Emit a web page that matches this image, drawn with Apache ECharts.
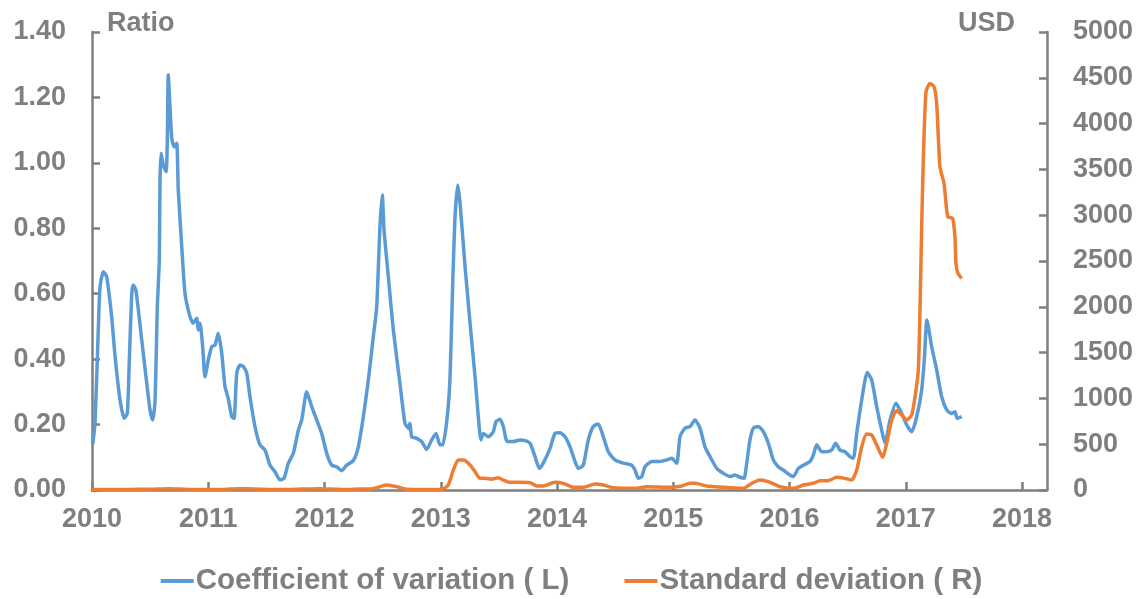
<!DOCTYPE html>
<html>
<head>
<meta charset="utf-8">
<title>Coefficient of variation and standard deviation</title>
<script src="https://cdn.jsdelivr.net/npm/echarts@6/dist/echarts.min.js"></script>
<style>
  html, body { margin: 0; padding: 0; background: #fff; }
  #chart { width: 1143px; height: 599px; }
</style>
</head>
<body>
<div id="chart"></div>
<script>
// x positions are decimal years
var cvYears = [2010.006, 2010.026, 2010.054, 2010.069, 2010.097, 2010.126, 2010.169, 2010.198, 2010.241, 2010.278,
  2010.304, 2010.321, 2010.342, 2010.355, 2010.378, 2010.428, 2010.471, 2010.499, 2010.522, 2010.542,
  2010.562, 2010.579, 2010.585, 2010.594, 2010.613, 2010.637, 2010.648, 2010.656, 2010.671, 2010.686,
  2010.708, 2010.729, 2010.742, 2010.772, 2010.800, 2010.843, 2010.871, 2010.901, 2010.914, 2010.929,
  2010.952, 2010.972, 2011.000, 2011.030, 2011.058, 2011.086, 2011.116, 2011.144, 2011.172, 2011.202,
  2011.222, 2011.245, 2011.273, 2011.302, 2011.331, 2011.359, 2011.402, 2011.445, 2011.488, 2011.531,
  2011.574, 2011.617, 2011.652, 2011.689, 2011.732, 2011.775, 2011.804, 2011.847, 2011.890, 2011.933,
  2011.976, 2012.019, 2012.062, 2012.105, 2012.148, 2012.191, 2012.248, 2012.291, 2012.334, 2012.377,
  2012.420, 2012.449, 2012.477, 2012.497, 2012.512, 2012.549, 2012.592, 2012.649, 2012.692, 2012.720,
  2012.735, 2012.750, 2012.793, 2012.836, 2012.879, 2012.922, 2012.959, 2012.994, 2013.017, 2013.056,
  2013.080, 2013.103, 2013.123, 2013.146, 2013.166, 2013.209, 2013.252, 2013.295, 2013.323, 2013.346,
  2013.366, 2013.409, 2013.452, 2013.475, 2013.510, 2013.538, 2013.572, 2013.624, 2013.682, 2013.725,
  2013.768, 2013.811, 2013.848, 2013.882, 2013.940, 2013.983, 2014.026, 2014.069, 2014.112, 2014.155,
  2014.183, 2014.226, 2014.269, 2014.312, 2014.355, 2014.398, 2014.441, 2014.499, 2014.570, 2014.643,
  2014.671, 2014.699, 2014.729, 2014.757, 2014.815, 2014.886, 2014.944, 2014.987, 2015.030, 2015.058,
  2015.101, 2015.144, 2015.187, 2015.230, 2015.273, 2015.316, 2015.374, 2015.431, 2015.488, 2015.531,
  2015.574, 2015.609, 2015.632, 2015.660, 2015.689, 2015.732, 2015.775, 2015.818, 2015.861, 2015.903,
  2015.946, 2015.990, 2016.033, 2016.076, 2016.119, 2016.176, 2016.205, 2016.234, 2016.277, 2016.320,
  2016.363, 2016.397, 2016.434, 2016.477, 2016.520, 2016.549, 2016.578, 2016.621, 2016.669, 2016.707,
  2016.750, 2016.793, 2016.822, 2016.865, 2016.916, 2016.965, 2017.008, 2017.051, 2017.094, 2017.137,
  2017.160, 2017.182, 2017.223, 2017.266, 2017.309, 2017.352, 2017.394, 2017.423, 2017.443, 2017.481];
var cvValues = [0.14, 0.205, 0.49, 0.62, 0.667, 0.652, 0.53, 0.41, 0.275, 0.219,
  0.235, 0.397, 0.60, 0.627, 0.61, 0.458, 0.326, 0.245, 0.214, 0.27,
  0.56, 0.703, 0.948, 1.029, 0.993, 0.973, 1.07, 1.269, 1.172, 1.075,
  1.049, 1.06, 0.917, 0.744, 0.601, 0.53, 0.51, 0.525, 0.489, 0.51,
  0.438, 0.346, 0.397, 0.438, 0.443, 0.479, 0.418, 0.316, 0.28, 0.224,
  0.219, 0.357, 0.382, 0.377, 0.357, 0.285, 0.194, 0.138, 0.122, 0.076,
  0.056, 0.031, 0.036, 0.082, 0.112, 0.183, 0.214, 0.30, 0.255, 0.214,
  0.173, 0.112, 0.076, 0.071, 0.059, 0.076, 0.09, 0.132, 0.224, 0.336,
  0.469, 0.56, 0.805, 0.902, 0.795, 0.652, 0.489, 0.326, 0.204, 0.189,
  0.204, 0.163, 0.158, 0.148, 0.124, 0.153, 0.173, 0.138, 0.138, 0.224,
  0.346, 0.632, 0.835, 0.932, 0.876, 0.683, 0.51, 0.346, 0.224, 0.153,
  0.173, 0.163, 0.178, 0.209, 0.216, 0.194, 0.148, 0.148, 0.153, 0.151,
  0.143, 0.102, 0.066, 0.082, 0.127, 0.173, 0.175, 0.163, 0.132, 0.087,
  0.066, 0.076, 0.153, 0.194, 0.202, 0.163, 0.117, 0.092, 0.082, 0.076,
  0.061, 0.036, 0.041, 0.071, 0.087, 0.087, 0.092, 0.097, 0.082, 0.163,
  0.189, 0.194, 0.214, 0.189, 0.132, 0.102, 0.066, 0.051, 0.041, 0.046,
  0.039, 0.036, 0.082, 0.153, 0.189, 0.194, 0.178, 0.143, 0.092, 0.071,
  0.061, 0.049, 0.041, 0.066, 0.076, 0.087, 0.107, 0.138, 0.117, 0.117,
  0.122, 0.143, 0.122, 0.117, 0.102, 0.097, 0.173, 0.275, 0.359, 0.336,
  0.255, 0.183, 0.143, 0.214, 0.265, 0.234, 0.199, 0.178, 0.224, 0.306,
  0.40, 0.52, 0.438, 0.367, 0.285, 0.245, 0.234, 0.239, 0.219, 0.224];

var sdYears = [2010.000, 2010.300, 2010.550, 2010.650, 2010.750, 2010.900, 2011.150, 2011.250, 2011.400, 2011.600,
  2011.800, 2011.950, 2012.100, 2012.200, 2012.300, 2012.391, 2012.477, 2012.535, 2012.621, 2012.707,
  2012.822, 2013.008, 2013.065, 2013.108, 2013.151, 2013.194, 2013.252, 2013.295, 2013.338, 2013.381,
  2013.438, 2013.495, 2013.538, 2013.596, 2013.653, 2013.768, 2013.825, 2013.882, 2013.983, 2014.054,
  2014.140, 2014.226, 2014.327, 2014.398, 2014.484, 2014.685, 2014.772, 2014.972, 2015.073, 2015.144,
  2015.187, 2015.288, 2015.431, 2015.603, 2015.675, 2015.746, 2015.818, 2015.918, 2016.033, 2016.119,
  2016.205, 2016.262, 2016.333, 2016.406, 2016.477, 2016.535, 2016.578, 2016.621, 2016.664, 2016.707,
  2016.750, 2016.802, 2016.836, 2016.879, 2016.922, 2016.965, 2017.008, 2017.051, 2017.080, 2017.108,
  2017.123, 2017.137, 2017.151, 2017.174, 2017.209, 2017.243, 2017.266, 2017.294, 2017.329, 2017.361,
  2017.403, 2017.423, 2017.432, 2017.449, 2017.481];
var sdValues = [5, 5, 10, 15, 12, 5, 8, 15, 12, 5,
  10, 15, 8, 5, 10, 10, 36, 55, 36, 8,
  5, 5, 55, 218, 327, 327, 273, 200, 127, 127,
  117, 135, 109, 84, 84, 80, 44, 44, 84, 73,
  29, 29, 65, 55, 25, 18, 36, 29, 44, 73,
  73, 44, 29, 18, 73, 109, 91, 36, 18, 55,
  73, 102, 102, 138, 127, 109, 218, 473, 611, 600,
  491, 357, 509, 764, 866, 819, 764, 819, 1019, 1310,
  2001, 2874, 3603, 4348, 4439, 4403, 4221, 3529, 3348, 2983,
  2966, 2765, 2474, 2365, 2311];

var ratioTicks = { min: 0, max: 1.4, step: 0.2 };
var usdTicks = { min: 0, max: 5000, step: 500 };
var yearTicks = { min: 2010, max: 2018, step: 1 };

var gray = '#7f7f7f';
var font = "'Liberation Sans', Arial, sans-serif";

function pairs(xs, ys) {
  return xs.map(function (x, i) { return [x, ys[i]]; });
}

var chart = echarts.init(document.getElementById('chart'));
chart.setOption({
  animation: false,
  grid: { left: 92, right: 96, top: 32, bottom: 109 },
  legend: {
    left: 'center',
    top: 561,
    itemWidth: 33,
    itemHeight: 4,
    itemGap: 55,
    icon: 'rect',
    textStyle: { color: gray, fontFamily: font, fontWeight: 'bold', fontSize: 29.5, padding: [0, 0, 0, -3] },
    data: ['Coefficient of variation ( L)', 'Standard deviation ( R)']
  },
  xAxis: {
    type: 'value',
    min: yearTicks.min,
    max: yearTicks.max + 0.215,
    interval: yearTicks.step,
    splitLine: { show: false },
    axisLine: { lineStyle: { color: gray, width: 2.5 } },
    axisTick: { inside: true, length: 8, lineStyle: { color: gray, width: 2.5 } },
    axisLabel: {
      color: gray, fontFamily: font, fontWeight: 'bold', fontSize: 27, margin: 16,
      showMaxLabel: false,
      formatter: function (v) { return Math.abs(v - Math.round(v)) < 1e-6 ? String(Math.round(v)) : ''; }
    }
  },
  yAxis: [{
    type: 'value',
    min: ratioTicks.min, max: ratioTicks.max, interval: ratioTicks.step,
    splitLine: { show: false },
    axisLine: { show: true, lineStyle: { color: gray, width: 2.5 } },
    axisTick: { show: true, inside: true, length: 8, lineStyle: { color: gray, width: 2.5 } },
    axisLabel: { color: gray, fontFamily: font, fontWeight: 'bold', fontSize: 27, margin: 26,
      formatter: function (v) { return v.toFixed(2); } }
  }, {
    type: 'value',
    position: 'right',
    min: usdTicks.min, max: usdTicks.max, interval: usdTicks.step,
    splitLine: { show: false },
    axisLine: { show: true, lineStyle: { color: gray, width: 2.5 } },
    axisTick: { show: true, inside: true, length: 8, lineStyle: { color: gray, width: 2.5 } },
    axisLabel: { color: gray, fontFamily: font, fontWeight: 'bold', fontSize: 27, margin: 26,
      formatter: function (v) { return String(v); } }
  }],
  graphic: [
    { type: 'text', left: 107, top: 10, style: { text: 'Ratio', fill: gray, font: "bold 27px 'Liberation Sans', Arial, sans-serif" } },
    { type: 'text', left: 958, top: 10, style: { text: 'USD', fill: gray, font: "bold 27px 'Liberation Sans', Arial, sans-serif" } }
  ],
  series: [{
    name: 'Coefficient of variation ( L)',
    type: 'line',
    yAxisIndex: 0,
    showSymbol: false,
    smooth: 0.2,
    color: '#5b9bd5',
    lineStyle: { width: 3.5 },
    data: pairs(cvYears, cvValues)
  }, {
    name: 'Standard deviation ( R)',
    type: 'line',
    yAxisIndex: 1,
    showSymbol: false,
    smooth: 0.2,
    color: '#ed7d31',
    lineStyle: { width: 3.5 },
    data: pairs(sdYears, sdValues)
  }]
});
</script>
</body>
</html>
